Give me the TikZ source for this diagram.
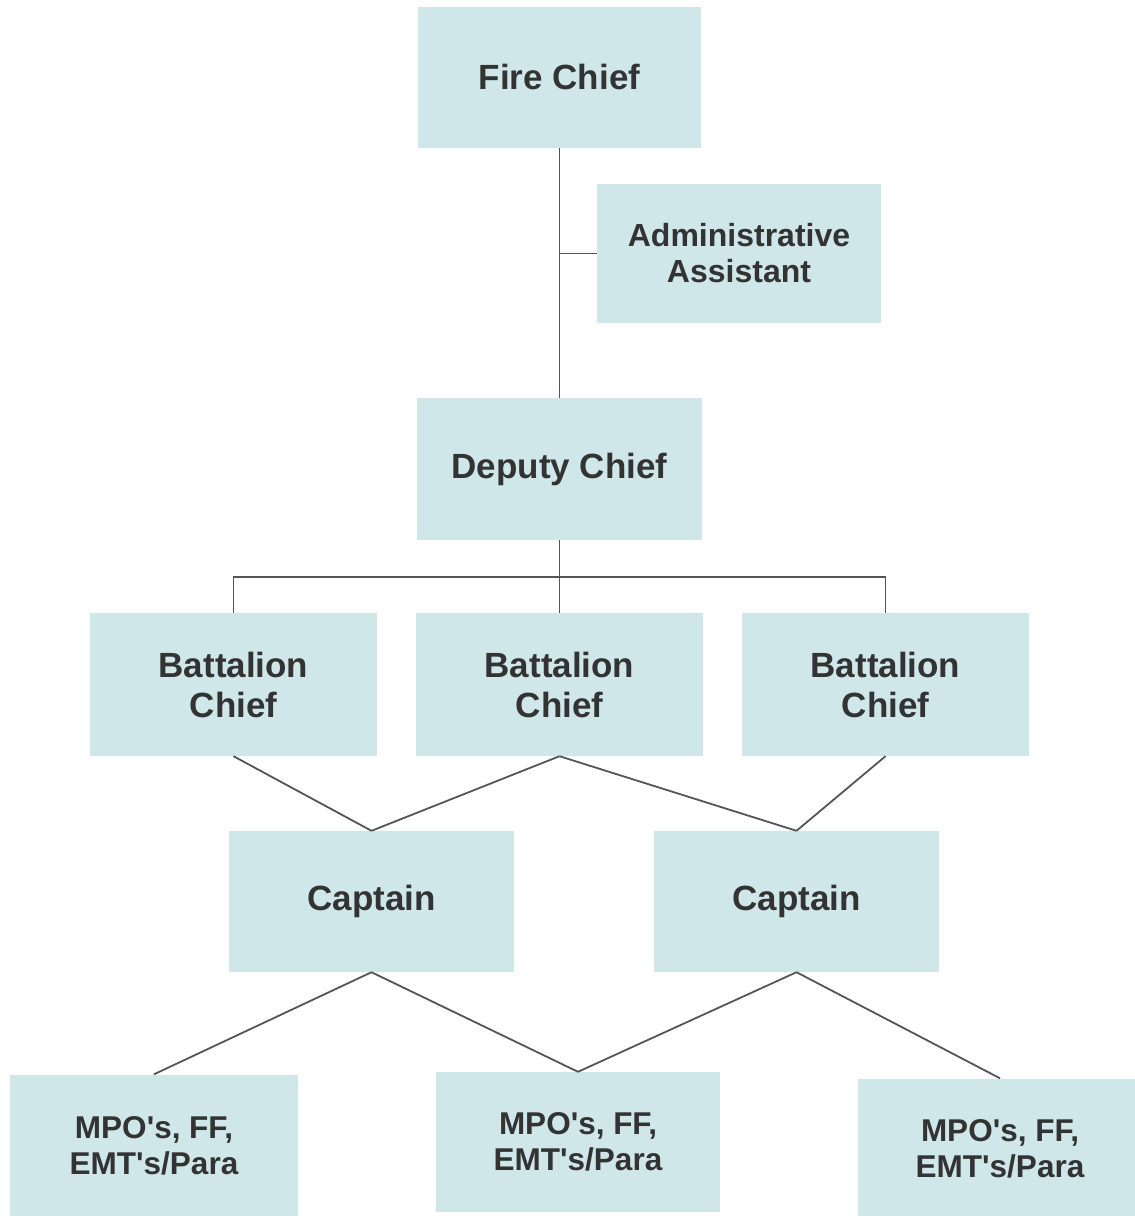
\documentclass[tikz,border=0pt]{standalone}
\usepackage{fontspec}
\setmainfont{Liberation Sans}
\definecolor{boxfill}{RGB}{207,231,233}
\definecolor{txt}{RGB}{51,51,51}
\definecolor{ln}{RGB}{85,85,85}
\newcommand{\apo}{\textquotesingle}
\begin{document}
\begin{tikzpicture}[x=1pt,y=-1pt,
  box/.style={rectangle, fill=boxfill, draw=none, inner sep=0pt, align=center,
    text=txt, font=\bfseries\fontsize{35}{40}\selectfont},
  adminbox/.style={box, font=\bfseries\fontsize{32}{36}\selectfont},
  smallbox/.style={box, font=\bfseries\fontsize{31.5}{36}\selectfont},
  conn/.style={draw=ln, line width=1.8pt}]
\useasboundingbox (0,0) rectangle (1135,1216);
\clip (0,0) rectangle (1135,1216);
\node[box, minimum width=283pt, minimum height=141pt] (fire) at (559.5,77) {Fire Chief};
\node[adminbox, minimum width=284pt, minimum height=139pt] (admin) at (739,253.5) {Administrative\\Assistant};
\node[box, minimum width=285pt, minimum height=142pt] (deputy) at (559.5,469) {Deputy Chief};
\node[box, minimum width=287pt, minimum height=143pt] (bc1) at (233.5,684.5) {Battalion\\Chief};
\node[box, minimum width=287pt, minimum height=143pt] (bc2) at (559.5,684.5) {Battalion\\Chief};
\node[box, minimum width=287pt, minimum height=143pt] (bc3) at (885.5,684.5) {Battalion\\Chief};
\node[box, minimum width=285pt, minimum height=141pt] (cap1) at (371.5,901.5) {Captain};
\node[box, minimum width=285pt, minimum height=141pt] (cap2) at (796.5,901.5) {Captain};
\node[smallbox, minimum width=288pt, minimum height=143pt] (mpo1) at (154,1146) {MPO\apo s, FF,\\EMT\apo s/Para};
\node[smallbox, minimum width=284pt, minimum height=140pt] (mpo2) at (578,1142) {MPO\apo s, FF,\\EMT\apo s/Para};
\node[smallbox, minimum width=284pt, minimum height=141pt] (mpo3) at (1000,1149) {MPO\apo s, FF,\\EMT\apo s/Para};
\coordinate (bus) at (559.5,577);
\draw[conn] (fire.south) -- (deputy.north);
\draw[conn] (admin.west) -- (admin.west -| fire.south);
\draw[conn] (deputy.south) -- (bus);
\draw[conn] (bc1.north) |- (bus) -| (bc3.north);
\draw[conn] (bus) -- (bc2.north);
\draw[conn] (bc1.south) -- (cap1.north);
\draw[conn] (bc2.south) -- (cap1.north);
\draw[conn] (bc2.south) -- (cap2.north);
\draw[conn] (bc3.south) -- (cap2.north);
\draw[conn] (cap1.south) -- (mpo1.north);
\draw[conn] (cap1.south) -- (mpo2.north);
\draw[conn] (cap2.south) -- (mpo2.north);
\draw[conn] (cap2.south) -- (mpo3.north);
\end{tikzpicture}
\end{document}
